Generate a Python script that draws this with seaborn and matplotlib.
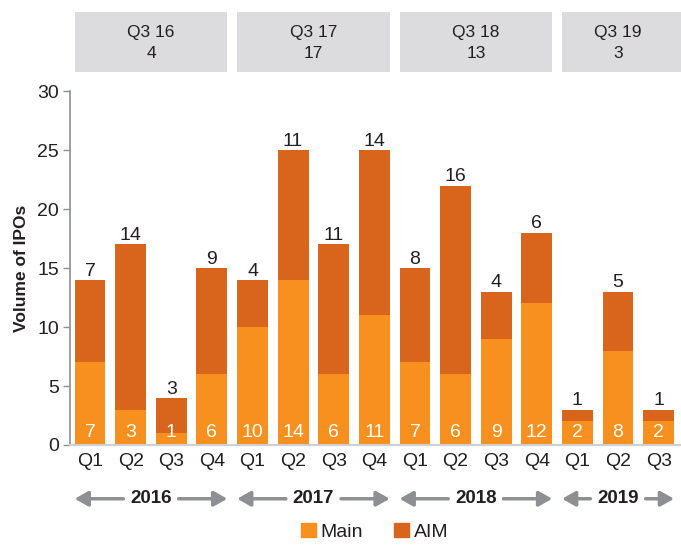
import pandas as pd
import matplotlib
matplotlib.use("Agg")
import matplotlib.pyplot as plt
import seaborn as sns

# -----------------------
# DATA
# -----------------------
quarters = ["Q1", "Q2", "Q3", "Q4", "Q1", "Q2", "Q3", "Q4",
            "Q1", "Q2", "Q3", "Q4", "Q1", "Q2", "Q3"]
main = [7, 3, 1, 6, 10, 14, 6, 11, 7, 6, 9, 12, 2, 8, 2]
aim = [7, 14, 3, 9, 4, 11, 11, 14, 8, 16, 4, 6, 1, 5, 1]
years = ["2016", "2017", "2018", "2019"]
year_counts = [4, 4, 4, 3]
q3_labels = ["Q3 16", "Q3 17", "Q3 18", "Q3 19"]
q3_values = [4, 17, 13, 3]

MAIN_COL = "#F7901E"
AIM_COL = "#D9641C"
GREY = "#8E8F92"
TXT = "#231F20"

df = pd.DataFrame({"pos": range(len(main)), "quarter": quarters,
                   "Main": main, "AIM": aim})
df["total"] = df["Main"] + df["AIM"]

sns.set_style("white")
plt.rcParams["font.family"] = ["Liberation Sans", "DejaVu Sans"]

fig = plt.figure(figsize=(6.81, 5.46), dpi=100)
ax = fig.add_axes([0.103, 0.185, 0.897, 0.648])

# stacked bars: totals first (AIM colour), Main on top of it
sns.barplot(data=df, x="pos", y="total", color=AIM_COL, width=0.76,
            saturation=1, ax=ax, label="AIM", linewidth=0, legend=False)
sns.barplot(data=df, x="pos", y="Main", color=MAIN_COL, width=0.76,
            saturation=1, ax=ax, label="Main", linewidth=0, legend=False)
if ax.get_legend() is not None:
    ax.get_legend().remove()

ax.set_ylim(0, 30)
ax.set_xlim(-0.49, 14.55)
ax.set_yticks(range(0, 31, 5))
ax.set_xticks(df["pos"])
ax.set_xticklabels(quarters)
ax.tick_params(axis="y", labelsize=14, colors=GREY, labelcolor=TXT,
               length=5, width=1, direction="out", left=True, pad=3)
ax.tick_params(axis="x", labelsize=14, labelcolor=TXT, length=0, pad=6)
ax.set_xlabel("")
ax.set_ylabel("Volume of IPOs", fontsize=12.5, fontweight="bold", color=TXT,
              labelpad=6)

sns.despine(ax=ax, top=True, right=True)
ax.spines["left"].set_color(GREY)
ax.spines["left"].set_linewidth(1.2)
ax.spines["bottom"].set_color("#D0D0D2")
ax.spines["bottom"].set_linewidth(1.5)

# labels
for i, row in df.iterrows():
    ax.text(i, 0.3, str(row["Main"]), ha="center", va="bottom",
            color="white", fontsize=14)
    ax.text(i, row["total"] + 0.02, str(row["AIM"]), ha="center",
            va="bottom", color=TXT, fontsize=14)

# year arrows and grey boxes
trans = ax.get_xaxis_transform()
start = 0
for yr, n, ql, qv in zip(years, year_counts, q3_labels, q3_values):
    end = start + n - 1
    left, right = start - 0.38, end + 0.38
    mid = (start + end) / 2
    y = -0.152
    for tip, tail in [(left, mid - 0.68), (right, mid + 0.68)]:
        ax.annotate("", xy=(tip, y), xytext=(tail, y), xycoords=trans,
                    textcoords=trans,
                    arrowprops=dict(arrowstyle="-|>,head_length=0.8,head_width=0.45",
                                    color=GREY, lw=2.5, shrinkA=0, shrinkB=0),
                    annotation_clip=False)
    ax.text(mid, y, yr, transform=trans, ha="center", va="center",
            fontsize=13.5, fontweight="bold", color=TXT)

    bw = right - left + (0.2 if yr == years[-1] else 0)
    box = plt.Rectangle((left, 1.053), bw, 0.172, transform=trans,
                        facecolor="#DCDCDE", edgecolor="none", clip_on=False)
    ax.add_patch(box)
    ax.text(left + (right - left) / 2, 1.137, f"{ql}\n{qv}", transform=trans,
            ha="center", va="center", fontsize=12.5, color=TXT,
            linespacing=1.5)
    start += n

# legend
handles = [plt.Rectangle((0, 0), 1, 1, color=MAIN_COL),
           plt.Rectangle((0, 0), 1, 1, color=AIM_COL)]
fig.legend(handles, ["Main", "AIM"],
           loc="lower center", bbox_to_anchor=(0.55, -0.022), ncol=2,
           frameon=False, fontsize=14, handlelength=0.75, handleheight=0.75,
           handletextpad=0.25, columnspacing=1.6, labelcolor=TXT)

fig.savefig("out.png", dpi=100)
